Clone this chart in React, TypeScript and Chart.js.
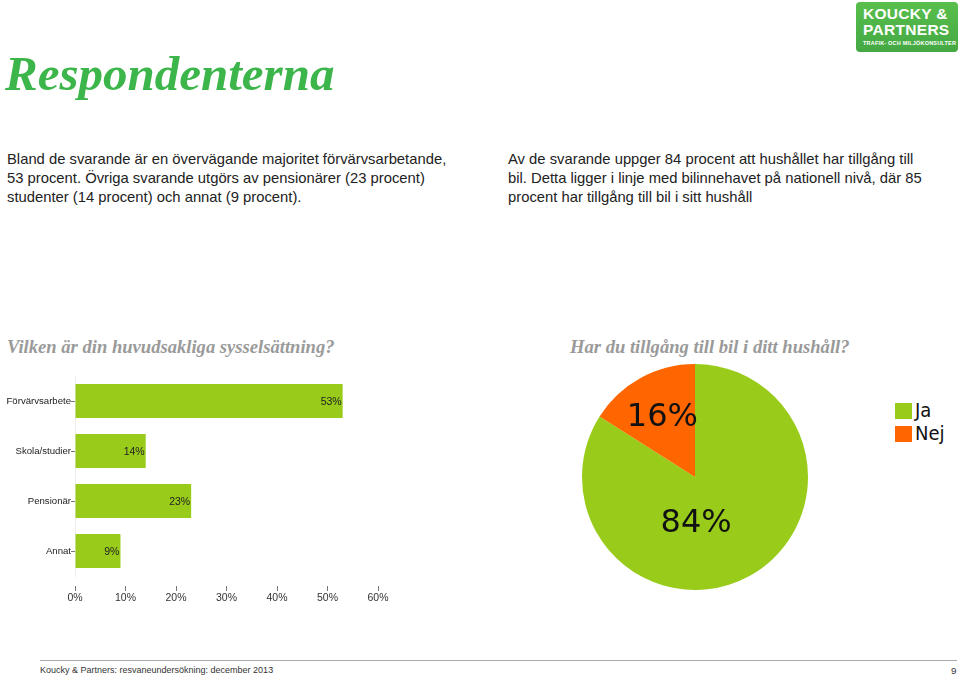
import React, { useEffect, useRef } from "react";
import { Chart, registerables } from "chart.js";

Chart.register(...registerables);

const barCategories = ["Förvärvsarbete", "Skola/studier", "Pensionär", "Annat"];
const barValues = [53, 14, 23, 9];
const barTicks = [0, 10, 20, 30, 40, 50, 60];

const pieLabels = ["Ja", "Nej"];
const pieValues = [84, 16];

const GREEN = "#99cc1a";
const ORANGE = "#ff6600";
const pieColors = [GREEN, ORANGE];

const SMALL_FONT = "'Liberation Sans', Arial, sans-serif";

const barLabelPlugin = {
  id: "barLabels",
  afterDatasetsDraw(chart: any) {
    const ctx = chart.ctx;
    const meta = chart.getDatasetMeta(0);
    ctx.save();
    ctx.font = `10.5px ${SMALL_FONT}`;
    ctx.fillStyle = "#222";
    ctx.textAlign = "right";
    ctx.textBaseline = "middle";
    meta.data.forEach((bar: any, i: number) => {
      ctx.fillText(`${barValues[i]}%`, bar.x - 1, bar.y + 1);
    });
    ctx.restore();
  },
};

const pieLabelPlugin = {
  id: "pieLabels",
  afterDatasetsDraw(chart: any) {
    const ctx = chart.ctx;
    const meta = chart.getDatasetMeta(0);
    ctx.save();
    ctx.font = `32px 'DejaVu Sans', sans-serif`;
    ctx.fillStyle = "#111";
    ctx.textAlign = "center";
    ctx.textBaseline = "middle";
    meta.data.forEach((arc: any, i: number) => {
      const cx = arc.x;
      const cy = arc.y;
      const r = arc.outerRadius;
      let x: number, y: number;
      if (pieValues[i] < 50) {
        const mid = (arc.startAngle + arc.endAngle) / 2;
        x = cx + Math.cos(mid) * r * 0.6;
        y = cy + Math.sin(mid) * r * 0.6;
      } else {
        x = cx + r * 0.01;
        y = cy + r * 0.41;
      }
      ctx.fillText(`${pieValues[i]}%`, x, y);
    });
    ctx.restore();
  },
};

function BarChart() {
  const ref = useRef<HTMLCanvasElement>(null);
  useEffect(() => {
    const chart = new Chart(ref.current!, {
      type: "bar",
      data: {
        labels: barCategories,
        datasets: [
          {
            data: barValues,
            backgroundColor: GREEN,
            borderWidth: 0,
            categoryPercentage: 1,
            barPercentage: 0.68,
          },
        ],
      },
      options: {
        indexAxis: "y",
        animation: false,
        responsive: false,
        maintainAspectRatio: false,
        layout: { padding: { top: 6, right: 20, left: 0, bottom: 0 } },
        plugins: { legend: { display: false }, tooltip: { enabled: false } },
        scales: {
          x: {
            min: 0,
            max: 60,
            afterBuildTicks: (scale: any) => {
              scale.ticks = barTicks.map((v) => ({ value: v }));
            },
            afterFit: (scale: any) => {
              scale.height = 34;
            },
            border: { display: false },
            grid: {
              drawOnChartArea: false,
              tickLength: 15,
              tickBorderDash: [5, 10],
              tickBorderDashOffset: 5,
              color: "#777",
              lineWidth: 1,
            },
            ticks: {
              padding: 1,
              color: "#333",
              font: { family: SMALL_FONT, size: 10.5 },
              callback: (v: any) => `${v}%`,
            },
          },
          y: {
            afterFit: (scale: any) => {
              scale.width = 75;
            },
            border: { display: true, color: "#eeeeee" },
            grid: {
              offset: false,
              drawOnChartArea: false,
              tickLength: 4,
              color: "#777",
            },
            ticks: {
              padding: 0,
              color: "#222",
              font: { family: SMALL_FONT, size: 9.6 },
            },
          },
        },
      },
      plugins: [barLabelPlugin],
    });
    return () => chart.destroy();
  }, []);
  return (
    <canvas
      ref={ref}
      width={398}
      height={240}
      style={{ position: "absolute", left: 0, top: 370, width: 398, height: 240 }}
    />
  );
}

function PieChart() {
  const ref = useRef<HTMLCanvasElement>(null);
  useEffect(() => {
    const chart = new Chart(ref.current!, {
      type: "pie",
      data: {
        labels: pieLabels,
        datasets: [
          {
            data: pieValues,
            backgroundColor: pieColors,
            borderWidth: 0,
          },
        ],
      },
      options: {
        animation: false,
        responsive: false,
        maintainAspectRatio: false,
        layout: { padding: 0 },
        plugins: { legend: { display: false }, tooltip: { enabled: false } },
      },
      plugins: [pieLabelPlugin],
    });
    return () => chart.destroy();
  }, []);
  return (
    <canvas
      ref={ref}
      width={226}
      height={226}
      style={{ position: "absolute", left: 582, top: 364, width: 226, height: 226 }}
    />
  );
}

const bodyText: React.CSSProperties = {
  position: "absolute",
  fontFamily: "'Liberation Sans', Arial, sans-serif",
  fontSize: 14.8,
  lineHeight: "19px",
  color: "#222",
  whiteSpace: "nowrap",
};

const subTitle: React.CSSProperties = {
  position: "absolute",
  fontFamily: "'Liberation Serif', 'DejaVu Serif', serif",
  fontWeight: "bold",
  fontStyle: "italic",
  fontSize: 18.6,
  color: "#9a9a9a",
  whiteSpace: "nowrap",
};

export default function App() {
  return (
    <div
      style={{
        position: "fixed",
        left: 0,
        top: 0,
        width: 960,
        height: 678,
        background: "#fff",
        overflow: "hidden",
      }}
    >
      {/* Logo */}
      <div
        style={{
          position: "absolute",
          left: 856,
          top: 2,
          width: 102,
          height: 50,
          borderRadius: 4,
          background: "linear-gradient(180deg, #58bf4c 0%, #45a844 100%)",
          color: "#fff",
          fontFamily: "'Liberation Sans', Arial, sans-serif",
        }}
      >
        <div style={{ position: "absolute", left: 7, top: 4, fontSize: 15.5, fontWeight: "bold", lineHeight: "16px", letterSpacing: 0.3 }}>
          KOUCKY &amp;
        </div>
        <div style={{ position: "absolute", left: 7, top: 20, fontSize: 15.5, fontWeight: "bold", lineHeight: "16px", letterSpacing: 0.3 }}>
          PARTNERS
        </div>
        <div style={{ position: "absolute", left: 7, top: 38, fontSize: 5.5, fontWeight: "bold", lineHeight: "7px", letterSpacing: 0.2, whiteSpace: "nowrap" }}>
          TRAFIK- OCH MILJÖKONSULTER
        </div>
      </div>

      {/* Title */}
      <div
        style={{
          position: "absolute",
          left: 5,
          top: 47,
          fontFamily: "'Liberation Serif', 'DejaVu Serif', serif",
          fontWeight: "bold",
          fontStyle: "italic",
          fontSize: 49,
          lineHeight: "54px",
          color: "#3cb54a",
          whiteSpace: "nowrap",
        }}
      >
        Respondenterna
      </div>

      <div style={{ ...bodyText, left: 7, top: 150 }}>
        Bland de svarande är en övervägande majoritet förvärvsarbetande,
        <br />
        53 procent. Övriga svarande utgörs av pensionärer (23 procent)
        <br />
        studenter (14 procent) och annat (9 procent).
      </div>

      <div style={{ ...bodyText, left: 508, top: 150 }}>
        Av de svarande uppger 84 procent att hushållet har tillgång till
        <br />
        bil. Detta ligger i linje med bilinnehavet på nationell nivå, där 85
        <br />
        procent har tillgång till bil i sitt hushåll
      </div>

      <div style={{ ...subTitle, left: 7, top: 336 }}>Vilken är din huvudsakliga sysselsättning?</div>
      <div style={{ ...subTitle, left: 570, top: 336 }}>Har du tillgång till bil i ditt hushåll?</div>

      <BarChart />
      <PieChart />

      {/* Legend built from the pie data */}
      <div style={{ position: "absolute", left: 895, top: 399 }}>
        {pieLabels.map((l, i) => (
          <div key={l} style={{ display: "flex", alignItems: "center", height: 23 }}>
            <div style={{ width: 17, height: 16, background: pieColors[i] }} />
            <div
              style={{
                marginLeft: 3,
                fontFamily: "'DejaVu Sans Condensed', 'DejaVu Sans', sans-serif",
                fontSize: 20,
                lineHeight: "23px",
                color: "#111",
              }}
            >
              {l}
            </div>
          </div>
        ))}
      </div>

      {/* Footer */}
      <div style={{ position: "absolute", left: 40, top: 660, width: 917, height: 1, background: "#aaa" }} />
      <div
        style={{
          position: "absolute",
          left: 40,
          top: 665,
          fontFamily: SMALL_FONT,
          fontSize: 9,
          color: "#333",
          whiteSpace: "nowrap",
        }}
      >
        Koucky &amp; Partners: resvaneundersökning: december 2013
      </div>
      <div
        style={{
          position: "absolute",
          left: 951,
          top: 665,
          fontFamily: SMALL_FONT,
          fontSize: 9.8,
          color: "#333",
        }}
      >
        9
      </div>
    </div>
  );
}
